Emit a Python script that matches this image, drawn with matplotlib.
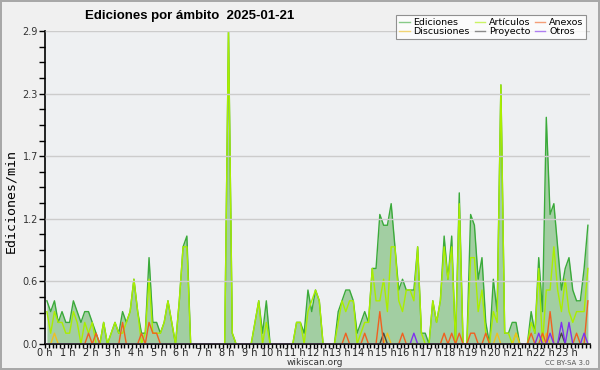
import numpy as np
import matplotlib
matplotlib.use("Agg")
import matplotlib.pyplot as plt
from matplotlib.ticker import FixedLocator, MultipleLocator

# edits per minute, 10-minute bins (144 per day), 12 bins per row = 2 hours
ediciones = [
    0.4, 0.3, 0.4, 0.2, 0.3, 0.2, 0.2, 0.4, 0.3, 0.2, 0.3, 0.3,
    0.2, 0.1, 0.0, 0.2, 0.0, 0.1, 0.2, 0.1, 0.3, 0.2, 0.3, 0.6,
    0.3, 0.1, 0.1, 0.8, 0.2, 0.2, 0.1, 0.2, 0.4, 0.2, 0.0, 0.4,
    0.9, 1.0, 0.0, 0.0, 0.0, 0.0, 0.0, 0.0, 0.0, 0.0, 0.0, 0.0,
    2.9, 0.1, 0.0, 0.0, 0.0, 0.0, 0.0, 0.2, 0.4, 0.1, 0.4, 0.0,
    0.0, 0.0, 0.0, 0.0, 0.0, 0.0, 0.2, 0.2, 0.1, 0.5, 0.3, 0.5,
    0.4, 0.0, 0.0, 0.0, 0.0, 0.3, 0.4, 0.5, 0.5, 0.4, 0.1, 0.2,
    0.3, 0.2, 0.7, 0.7, 1.2, 1.1, 1.1, 1.3, 0.9, 0.5, 0.6, 0.5,
    0.5, 0.5, 0.9, 0.1, 0.1, 0.0, 0.4, 0.2, 0.4, 1.0, 0.6, 1.0,
    0.0, 1.4, 0.0, 0.0, 1.2, 1.1, 0.6, 0.8, 0.2, 0.0, 0.6, 0.3,
    2.4, 0.1, 0.1, 0.2, 0.2, 0.0, 0.0, 0.0, 0.3, 0.1, 0.8, 0.3,
    2.1, 1.2, 1.3, 0.9, 0.5, 0.7, 0.8, 0.5, 0.4, 0.4, 0.7, 1.1,
]
articulos = [
    0.3, 0.1, 0.3, 0.2, 0.2, 0.1, 0.1, 0.3, 0.2, 0.0, 0.2, 0.1,
    0.2, 0.0, 0.0, 0.2, 0.0, 0.1, 0.2, 0.1, 0.1, 0.2, 0.3, 0.6,
    0.3, 0.0, 0.1, 0.6, 0.1, 0.1, 0.1, 0.2, 0.4, 0.2, 0.0, 0.4,
    0.9, 0.9, 0.0, 0.0, 0.0, 0.0, 0.0, 0.0, 0.0, 0.0, 0.0, 0.0,
    2.9, 0.1, 0.0, 0.0, 0.0, 0.0, 0.0, 0.2, 0.4, 0.0, 0.2, 0.0,
    0.0, 0.0, 0.0, 0.0, 0.0, 0.0, 0.2, 0.2, 0.0, 0.3, 0.4, 0.5,
    0.4, 0.0, 0.0, 0.0, 0.0, 0.2, 0.4, 0.3, 0.4, 0.4, 0.0, 0.1,
    0.2, 0.2, 0.7, 0.4, 0.4, 0.6, 0.3, 0.9, 0.9, 0.4, 0.3, 0.5,
    0.5, 0.4, 0.9, 0.1, 0.0, 0.0, 0.4, 0.2, 0.4, 0.9, 0.6, 0.9,
    0.0, 1.3, 0.0, 0.0, 0.8, 0.8, 0.3, 0.5, 0.1, 0.0, 0.3, 0.2,
    2.4, 0.1, 0.1, 0.0, 0.1, 0.0, 0.0, 0.0, 0.2, 0.1, 0.7, 0.0,
    0.5, 0.5, 0.9, 0.5, 0.3, 0.6, 0.3, 0.2, 0.3, 0.3, 0.3, 0.7,
]

# sparse namespaces: bin index -> value
anexos_bins = [11, 13, 20, 25, 27, 28, 29, 79, 84, 88, 94, 105, 107, 109,
               112, 113, 116, 128, 131, 133, 140, 143]
anexos_vals = [0.1, 0.1, 0.2, 0.1, 0.2, 0.1, 0.1, 0.1, 0.1, 0.3, 0.1, 0.1, 0.1, 0.1,
               0.1, 0.1, 0.1, 0.1, 0.1, 0.3, 0.1, 0.4]
discusiones_bins = [2, 90, 119, 124, 132]
discusiones_vals = [0.1, 0.1, 0.1, 0.1, 0.1]
proyecto_bins = [89, 136]
proyecto_vals = [0.1, 0.1]
otros_bins = [97, 130, 133, 136, 138, 142]
otros_vals = [0.1, 0.1, 0.1, 0.2, 0.2, 0.1]

hour_labels = [f"{h} h" for h in range(24)]
ytick_vals = [0.0, 0.58, 1.16, 1.74, 2.32, 2.9]
ytick_labels = ["0.0", "0.6", "1.2", "1.7", "2.3", "2.9"]


def sparse(bins, vals):
    s = np.zeros(144)
    s[bins] = vals
    return s


x = (np.arange(144) + 0.5) / 6.0

fig = plt.figure(figsize=(6, 3.7), dpi=100, facecolor="#f0f0f0",
                 edgecolor="#a8a8a8", linewidth=1.5)
ax = fig.add_axes([0.075, 0.0703, 0.908, 0.846])
ax.set_facecolor("#eef0f2")

ax.fill_between(x, ediciones, color="#a2cea2", lw=0)
ax.plot(x, ediciones, color="#3aaa3a", lw=1.0, label="Ediciones")
ax.plot(x, articulos, color="#aaee00", lw=1.0, label="Artículos")
ax.plot(x, sparse(discusiones_bins, discusiones_vals), color="#f0c020", lw=1.0, label="Discusiones")
ax.plot(x, sparse(proyecto_bins, proyecto_vals), color="#444444", lw=1.0, label="Proyecto")
ax.plot(x, sparse(anexos_bins, anexos_vals), color="#f06020", lw=1.0, label="Anexos")
ax.plot(x, sparse(otros_bins, otros_vals), color="#8030f0", lw=1.0, label="Otros")

ax.set_xlim(0, 24)
ax.set_ylim(0, 2.9)
ax.set_xticks(range(24))
ax.set_xticklabels(hour_labels, fontsize=7)
ax.xaxis.set_minor_locator(MultipleLocator(1 / 6))
ax.yaxis.set_major_locator(FixedLocator(ytick_vals))
ax.set_yticklabels(ytick_labels, fontsize=7, color="#333333")
ax.yaxis.set_minor_locator(MultipleLocator(0.145))
ax.tick_params(axis="x", which="both", length=3, width=1, pad=0, colors="black",
               labelcolor="#222222")
ax.tick_params(axis="y", which="both", length=4, width=1, pad=1)
ax.grid(axis="y", color="#cccccc", lw=1)
ax.set_axisbelow(False)
for s in ["top", "right"]:
    ax.spines[s].set_visible(False)
for s in ["left", "bottom"]:
    ax.spines[s].set_linewidth(1.2)

fig.text(0.018, 0.457, "Ediciones/min", rotation=90, va="center", ha="center",
         fontsize=9.5, family="DejaVu Sans Mono")
fig.text(0.142, 0.958, "Ediciones por ámbito  2025-01-21", fontsize=9.5,
         fontweight="bold", va="center", family="Liberation Sans")
fig.text(0.525, 0.02, "wikiscan.org", ha="center", va="center", fontsize=6.5,
         color="#333333")
fig.text(0.983, 0.02, "CC BY-SA 3.0", ha="right", va="center", fontsize=5,
         color="#555555")

h, l = ax.get_legend_handles_labels()
order = [0, 2, 1, 3, 4, 5]
leg = fig.legend([h[i] for i in order], [l[i] for i in order], ncol=3,
                 loc="upper right", bbox_to_anchor=(0.985, 0.972), fontsize=6.8,
                 frameon=True, fancybox=False, shadow=False, edgecolor="#777777",
                 handlelength=1.1, handletextpad=0.4, columnspacing=0.5,
                 labelspacing=0.05, borderpad=0.3)
leg.get_frame().set_facecolor("white")
leg.get_frame().set_linewidth(0.8)
for line in leg.get_lines():
    line.set_alpha(0.6)

fig.savefig("out.png", dpi=100, facecolor=fig.get_facecolor(),
            edgecolor=fig.get_edgecolor())
